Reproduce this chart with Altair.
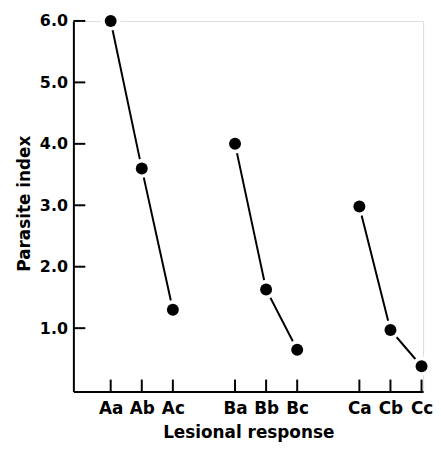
import altair as alt
import pandas as pd

# ---- data ----
categories = ["Aa", "Ab", "Ac", "Ba", "Bb", "Bc", "Ca", "Cb", "Cc"]
groups = ["A", "A", "A", "B", "B", "B", "C", "C", "C"]
parasite_index = [6.0, 3.6, 1.3, 4.0, 1.63, 0.65, 2.98, 0.97, 0.38]
y_tick_values = [1.0, 2.0, 3.0, 4.0, 5.0, 6.0]

# x position of each category: groups separated by one empty slot
group_order = ["A", "B", "C"]
positions = []
seen = {}
for g in groups:
    k = seen.get(g, 0)
    positions.append(1 + 4 * group_order.index(g) + k)
    seen[g] = k + 1

label_lookup = [""] * (max(positions) + 1)
for p, c in zip(positions, categories):
    label_lookup[p] = c
label_expr = "[" + ",".join("'%s'" % s for s in label_lookup) + "][datum.value]"

df = pd.DataFrame({"cat": categories, "grp": groups, "pos": positions, "idx": parasite_index})
xt = pd.DataFrame({"pos": positions})
yt = pd.DataFrame({"idx": y_tick_values})

FONT = "DejaVu Sans"
W, H = 353, 374

x_enc = alt.X(
    "pos:Q",
    scale=alt.Scale(domain=[-0.2, 11.05], nice=False, zero=False),
    axis=alt.Axis(
        values=positions, labelExpr=label_expr, title="Lesional response",
        grid=False, ticks=False, tickSize=0, labelPadding=9,
        labelFont=FONT, labelFontSize=17, labelFontWeight="bold", labelColor="black",
        titleFont=FONT, titleFontSize=17, titleFontWeight="bold", titleColor="black",
        titleBaseline="alphabetic", titleY=46, domainColor="black", domainWidth=2,
    ),
)
y_enc = alt.Y(
    "idx:Q",
    scale=alt.Scale(domain=[-0.03, 6.0], nice=False, zero=False),
    axis=alt.Axis(
        values=y_tick_values, format=".1f", title="Parasite index",
        grid=False, ticks=False, tickSize=0, labelPadding=6,
        labelFont=FONT, labelFontSize=16, labelFontWeight="bold", labelColor="black",
        titleFont=FONT, titleFontSize=17, titleFontWeight="bold", titleColor="black",
        titleAngle=-90, titleBaseline="alphabetic", titleAlign="center",
        titleX=-44, titleY=184, domainColor="black", domainWidth=2,
    ),
)

lines = alt.Chart(df).mark_line(color="black", strokeWidth=2).encode(
    x=x_enc, y=y_enc, detail="grp:N"
)
halo = alt.Chart(df).mark_circle(color="white", opacity=1, size=380).encode(x=x_enc, y=y_enc)
dots = alt.Chart(df).mark_circle(color="black", opacity=1, size=145).encode(x=x_enc, y=y_enc)

xticks = alt.Chart(xt).mark_rule(color="black", strokeWidth=2).encode(
    x=x_enc, y=alt.value(H), y2=alt.value(H - 12)
)
yticks = alt.Chart(yt).mark_rule(color="black", strokeWidth=2).encode(
    y=y_enc, x=alt.value(0), x2=alt.value(12)
)

chart = (
    alt.layer(lines, halo, dots, xticks, yticks)
    .properties(
        width=W, height=H,
        autosize=alt.AutoSizeParams(type="none"),
        padding={"left": 66, "top": 11, "right": 10, "bottom": 54},
    )
    .configure_view(stroke=None)
    .configure(background="white")
)

chart.save("out.html", embed_options={"renderer": "svg", "actions": False})
